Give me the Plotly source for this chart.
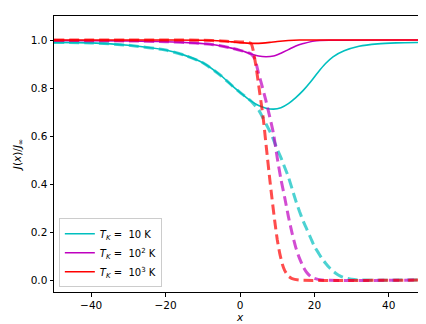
import plotly.graph_objects as go

# ---- data ----
x_c = [-50, -40, -30, -20, -15, -10, -5, -2, 0, 3, 5, 7, 9, 11, 13, 15, 17, 19, 21, 23, 25, 28, 32, 37, 42, 50]
y_c = [0.99, 0.988, 0.978, 0.958, 0.937, 0.905, 0.85, 0.808, 0.782, 0.745, 0.727, 0.716, 0.712, 0.718, 0.735, 0.76, 0.79, 0.826, 0.866, 0.902, 0.93, 0.955, 0.974, 0.984, 0.988, 0.99]

x_m = [-50, -30, -20, -12, -8, -5, -2, 0, 3, 5, 7, 9, 11, 13, 15, 17, 20, 25, 50]
y_m = [0.998, 0.996, 0.993, 0.987, 0.982, 0.975, 0.965, 0.957, 0.942, 0.933, 0.93, 0.933, 0.945, 0.96, 0.975, 0.985, 0.996, 0.999, 1.0]

x_r = [-50, -20, -10, -5, -2, 0, 2, 4, 6, 8, 10, 13, 16, 20, 50]
y_r = [1.0, 1.0, 0.999, 0.996, 0.992, 0.989, 0.987, 0.986, 0.987, 0.99, 0.994, 0.998, 1.0, 1.0, 1.0]

xd_c = [-50, -40, -30, -20, -15, -10, -5, -2, 0, 3, 5, 6, 7, 8, 9, 10, 11, 12, 13, 14, 15, 16, 17, 18, 19, 20, 21, 22, 23, 24, 25, 26, 27, 28, 29, 30, 32, 50]
yd_c = [0.99, 0.988, 0.978, 0.958, 0.937, 0.905, 0.85, 0.808, 0.782, 0.745, 0.708, 0.68, 0.65, 0.62, 0.585, 0.545, 0.51, 0.47, 0.43, 0.38, 0.33, 0.285, 0.245, 0.21, 0.175, 0.14, 0.115, 0.09, 0.07, 0.052, 0.037, 0.025, 0.016, 0.01, 0.006, 0.003, 0.0, 0.0]

xd_m = [-50, -30, -20, -12, -8, -5, -2, 0, 3, 4, 5, 6, 7, 8, 9, 10, 11, 12, 13, 14, 15, 16, 17, 18, 19, 20, 22, 50]
yd_m = [0.998, 0.996, 0.993, 0.987, 0.982, 0.975, 0.965, 0.957, 0.942, 0.92, 0.86, 0.805, 0.745, 0.68, 0.61, 0.51, 0.42, 0.345, 0.265, 0.195, 0.135, 0.09, 0.055, 0.03, 0.015, 0.007, 0.0, 0.0]

xd_r = [-50, -20, -10, -5, -2, 0, 2, 3, 3.5, 4.4, 5.3, 6.2, 7.1, 8.0, 8.6, 9.3, 10.0, 10.7, 11.4, 12.0, 13.0, 14.0, 16.0, 50]
yd_r = [1.0, 1.0, 0.999, 0.996, 0.993, 0.992, 0.99, 0.985, 0.96, 0.88, 0.78, 0.68, 0.55, 0.42, 0.34, 0.25, 0.17, 0.11, 0.065, 0.04, 0.016, 0.006, 0.0, 0.0]

labels = ["<i>T</i><sub><i>K</i></sub> =  10 K",
          "<i>T</i><sub><i>K</i></sub> =  10<sup>2</sup> K",
          "<i>T</i><sub><i>K</i></sub> =  10<sup>3</sup> K"]

colors = ["#00BFBF", "#BF00BF", "#FF0000"]
dcolors = ["rgba(0,191,191,0.7)", "rgba(191,0,191,0.7)", "rgba(255,0,0,0.7)"]

solids = [(x_c, y_c), (x_m, y_m), (x_r, y_r)]
dashes = [(xd_c, yd_c), (xd_m, yd_m), (xd_r, yd_r)]

fig = go.Figure()
for i in range(3):
    fig.add_trace(go.Scatter(x=solids[i][0], y=solids[i][1], mode="lines", name=labels[i],
                             line=dict(color=colors[i], width=1.6, shape="spline", smoothing=0.8)))
    fig.add_trace(go.Scatter(x=dashes[i][0], y=dashes[i][1], mode="lines", showlegend=False,
                             line=dict(color=dcolors[i], width=3, dash="10px,5px", shape="spline", smoothing=0.6)))

axis_common = dict(showline=True, linecolor="black", linewidth=1, mirror=True, ticks="outside",
                   ticklen=3.5, tickwidth=1, tickcolor="black", showgrid=False, zeroline=False,
                   tickfont=dict(family="DejaVu Sans", size=10.5, color="black"))

fig.update_layout(
    width=426, height=324,
    margin=dict(l=46, r=8, t=8, b=40),
    plot_bgcolor="white", paper_bgcolor="white",
    font=dict(family="DejaVu Sans", size=10.5, color="black"),
    xaxis=dict(range=[-50, 50], tickvals=[-40, -20, 0, 20, 40], ticktext=["\u221240", "\u221220", "0", "20", "40"],
               title=dict(text="<i>x</i>", standoff=3, font=dict(size=10.5, color="black")), **axis_common),
    yaxis=dict(range=[-0.05, 1.1], tickvals=[0, 0.2, 0.4, 0.6, 0.8, 1.0], ticktext=["0.0", "0.2", "0.4", "0.6", "0.8", "1.0"],
               title=dict(text="<i>J</i>(<i>x</i>)/<i>J</i><sub>\u221e</sub>", standoff=7, font=dict(size=10.5, color="black")), **axis_common),
    legend=dict(x=0.013, y=0.017, xanchor="left", yanchor="bottom", bgcolor="rgba(255,255,255,0.8)",
                bordercolor="#cccccc", borderwidth=1, font=dict(size=10, color="black"), itemwidth=30, tracegroupgap=0),
    showlegend=True,
)

fig.write_html("out.html")
